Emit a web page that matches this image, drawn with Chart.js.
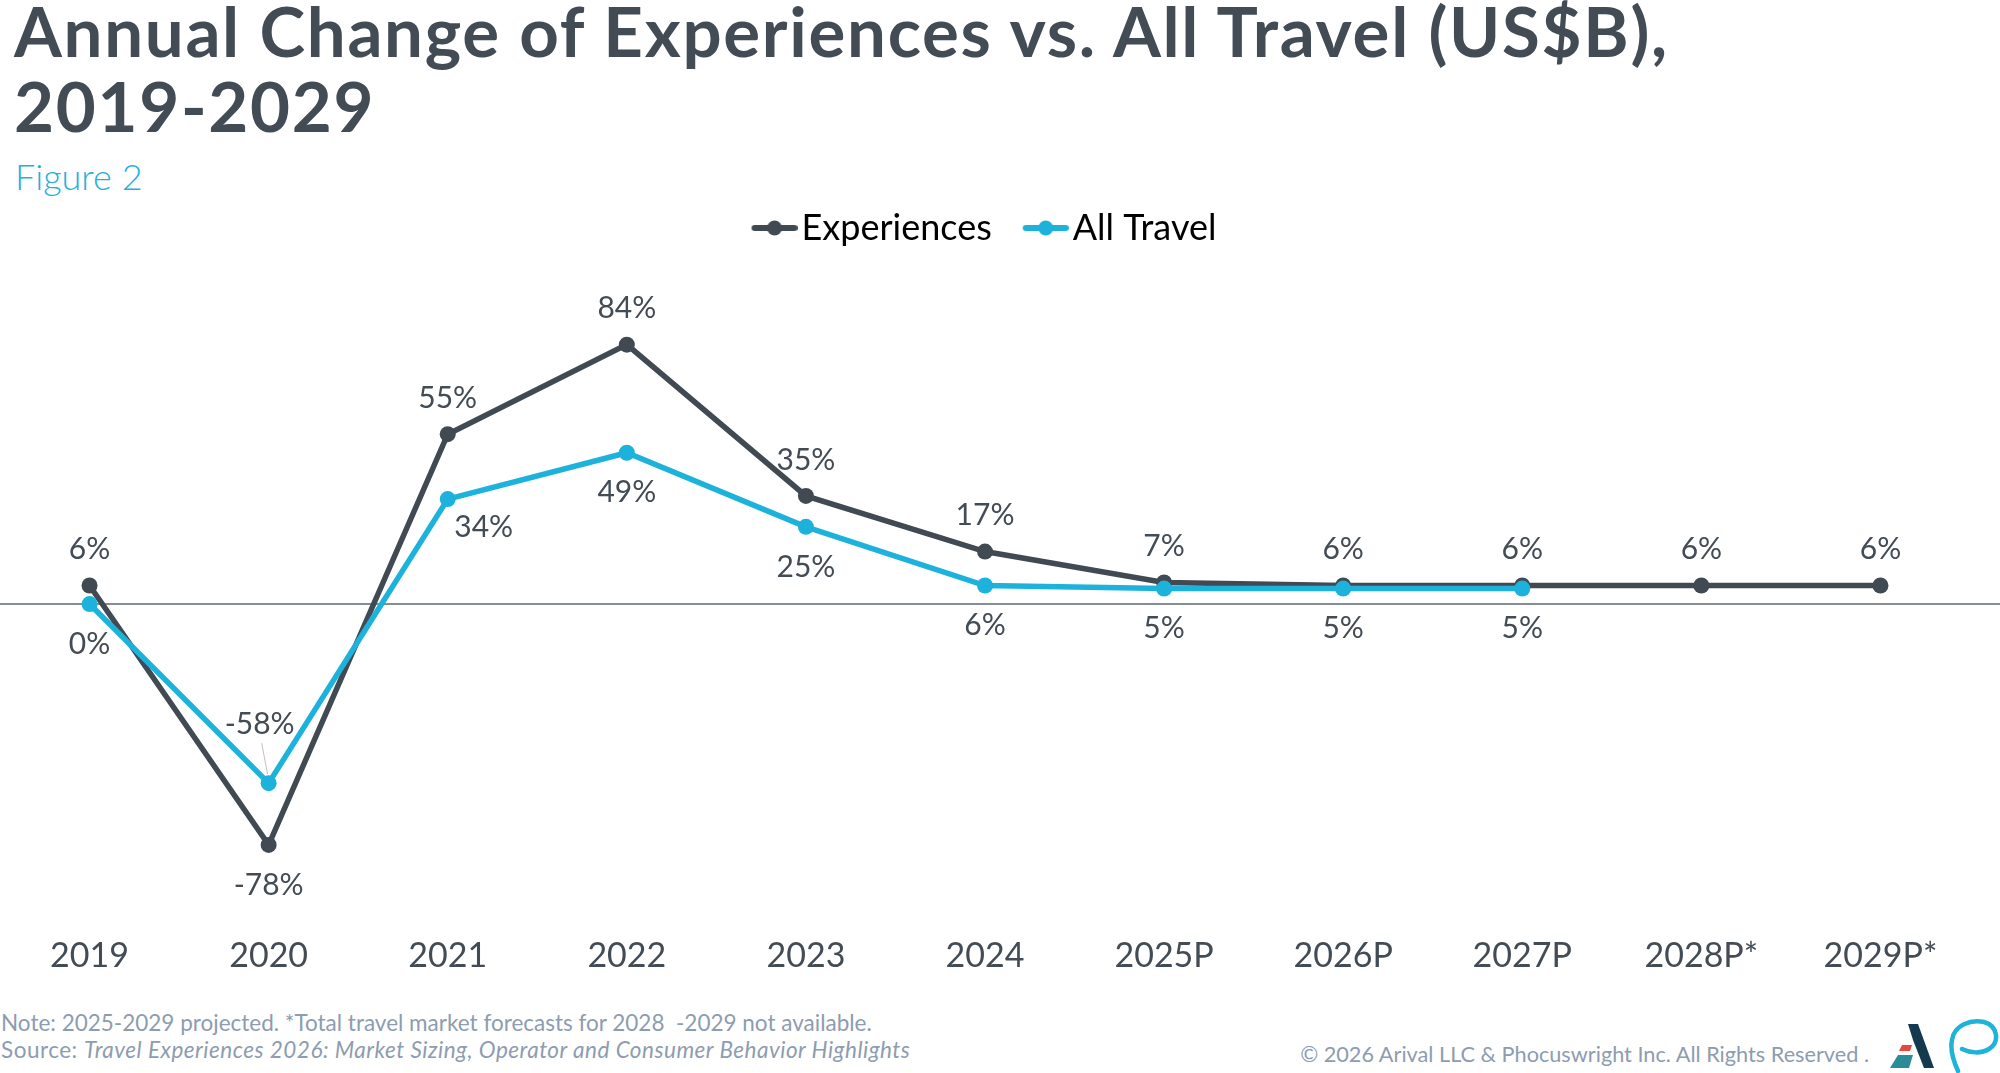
<!DOCTYPE html>
<html>
<head>
<meta charset="utf-8">
<title>Annual Change of Experiences vs. All Travel</title>
<script src="https://cdn.jsdelivr.net/npm/chart.js@4.4.1/dist/chart.umd.min.js"></script>
<style>
  html, body { margin: 0; padding: 0; background: #fff; }
  body { width: 2000px; height: 1073px; position: relative; overflow: hidden; font-family: Lato, "Noto Sans", sans-serif; }
  #title { position: absolute; left: 14px; top: -7px; font-weight: 700; font-size: 69px; line-height: 75px; letter-spacing: 1.7px; color: #434c55; white-space: nowrap; }
  #fig { position: absolute; left: 15px; top: 154px; font-size: 36px; font-weight: 300; color: #1fb1dc; }
  #wrap { position: absolute; left: 0; top: 0; width: 2000px; height: 1000px; }
  .foot { position: absolute; font-size: 22.5px; color: #8d9cb0; white-space: nowrap; }
  #note { left: 1px; top: 1009px; }
  #source { left: 1px; top: 1036px; letter-spacing: 0.5px; }
  #copy { right: 131px; top: 1041px; font-size: 21.7px; }
  #logos { position: absolute; left: 1885px; top: 1016px; }
</style>
</head>
<body>
<div id="title">Annual Change of Experiences vs. All Travel (US$B),<br>2019-2029</div>
<div id="fig">Figure 2</div>
<div id="wrap"><canvas id="chart" width="2000" height="1000"></canvas></div>
<div class="foot" id="note">Note: 2025-2029 projected. *Total travel market forecasts for 2028&nbsp; -2029 not available.</div>
<div class="foot" id="source">Source: <i>Travel Experiences 2026: Market Sizing, Operator and Consumer Behavior Highlights</i></div>
<div class="foot" id="copy">© 2026 Arival LLC &amp; Phocuswright Inc. All Rights Reserved .</div>
<svg id="logos" width="115" height="57" viewBox="0 0 115 57">
  <polygon points="23,8 33,8 49,52 39,52 28,24" fill="#143a50"/>
  <polygon points="17,29 27,29 25,35 14,35" fill="#e8473d"/>
  <polygon points="13,39 28,39 24,52 5,52" fill="#2a8c97"/>
  <path d="M73,55 C68,44 65,33 67,24 C69,9 86,3 99,6 C113,10 115,26 104,33 C96,38 85,37 77,33" fill="none" stroke="#1fb3d9" stroke-width="4.5" stroke-linecap="round"/>
</svg>

<script>
// categories and values
const years = ['2019', '2020', '2021', '2022', '2023', '2024', '2025P', '2026P', '2027P', '2028P*', '2029P*'];
const experiences = [6, -78, 55, 84, 35, 17, 7, 6, 6, 6, 6];
const allTravel = [0, -58, 34, 49, 25, 6, 5, 5, 5, null, null];

// where each value label sits relative to its point
const expLabelSide = ['above', 'below', 'above', 'above', 'above', 'above', 'above', 'above', 'above', 'above', 'above'];
const travelLabelSide = ['below', 'leader', 'right', 'below', 'below', 'below', 'below', 'below', 'below', null, null];

const DARK = '#414a52';
const CYAN = '#1db2dc';
const FONT = 'Lato, "Noto Sans", sans-serif';

const labelOffsets = {
    above: [0, -36],
    below: [0, 40],
    right: [36, 28],
    leader: [-9, -59]
};

// legend symbol: short line with a dot, shifted right so it hugs the text
function legendIcon(color) {
    const boxW = 30, shapeW = 46, left = -2;
    const half = Math.max(boxW / 2 - left, left + shapeW - boxW / 2);
    const c = document.createElement('canvas');
    c.width = half * 2;
    c.height = 18;
    const g = c.getContext('2d');
    const x0 = half - boxW / 2 + left;
    g.strokeStyle = color;
    g.lineWidth = 6;
    g.lineCap = 'round';
    g.beginPath();
    g.moveTo(x0 + 3, 9);
    g.lineTo(x0 + shapeW - 3, 9);
    g.stroke();
    g.fillStyle = color;
    g.beginPath();
    g.arc(x0 + shapeW / 2, 9, 7.5, 0, Math.PI * 2);
    g.fill();
    return c;
}

const zeroLine = {
    id: 'zeroLine',
    beforeDatasetsDraw(chart) {
        const y = chart.scales.y.getPixelForValue(0);
        const ctx = chart.ctx;
        ctx.save();
        ctx.strokeStyle = '#5d6872';
        ctx.lineWidth = 1.5;
        ctx.beginPath();
        ctx.moveTo(0, y);
        ctx.lineTo(chart.width, y);
        ctx.stroke();
        ctx.restore();
    }
};

const valueLabels = {
    id: 'valueLabels',
    afterDatasetsDraw(chart) {
        const ctx = chart.ctx;
        const sides = [expLabelSide, travelLabelSide];
        ctx.save();
        ctx.font = '30px ' + FONT;
        ctx.fillStyle = '#434c55';
        ctx.textAlign = 'center';
        ctx.textBaseline = 'middle';
        chart.data.datasets.forEach((ds, i) => {
            const meta = chart.getDatasetMeta(i);
            meta.data.forEach((pt, j) => {
                const v = ds.data[j];
                if (v === null || v === undefined) return;
                const side = sides[i][j];
                const [dx, dy] = labelOffsets[side];
                if (side === 'leader') {
                    ctx.save();
                    ctx.strokeStyle = '#b9c1c8';
                    ctx.lineWidth = 1;
                    ctx.beginPath();
                    ctx.moveTo(pt.x - 7, pt.y - 40);
                    ctx.lineTo(pt.x - 1, pt.y - 9);
                    ctx.stroke();
                    ctx.restore();
                }
                ctx.fillText(v + '%', pt.x + dx, pt.y + dy);
            });
        });
        ctx.restore();
    }
};

new Chart(document.getElementById('chart'), {
    type: 'line',
    data: {
        labels: years,
        datasets: [
            {
                label: 'Experiences',
                data: experiences,
                borderColor: DARK,
                backgroundColor: DARK,
                borderWidth: 5.5,
                pointRadius: 8,
                pointBorderWidth: 0,
                pointBackgroundColor: DARK,
                tension: 0,
                order: 1
            },
            {
                label: 'All Travel',
                data: allTravel,
                borderColor: CYAN,
                backgroundColor: CYAN,
                borderWidth: 5.5,
                pointRadius: 8,
                pointBorderWidth: 0,
                pointBackgroundColor: CYAN,
                tension: 0,
                order: 0
            }
        ]
    },
    options: {
        responsive: false,
        animation: false,
        layout: { autoPadding: false, padding: { top: 177, right: 30, bottom: 14, left: 0 } },
        plugins: {
            tooltip: { enabled: false },
            legend: {
                position: 'top',
                labels: {
                    usePointStyle: true,
                    pointStyleWidth: 30,
                    padding: 33,
                    color: '#434c55',
                    font: { size: 36, family: FONT },
                    generateLabels: chart => chart.data.datasets.map((ds, i) => ({
                        text: ds.label,
                        pointStyle: legendIcon(ds.borderColor),
                        fillStyle: ds.borderColor,
                        strokeStyle: ds.borderColor,
                        lineWidth: 0,
                        hidden: false,
                        datasetIndex: i
                    }))
                }
            }
        },
        scales: {
            x: {
                offset: true,
                grid: { display: false },
                border: { display: false },
                ticks: { color: '#434c55', font: { size: 34, family: FONT }, padding: 10 }
            },
            y: {
                display: false,
                min: -101.4,
                max: 112.7
            }
        }
    },
    plugins: [zeroLine, valueLabels]
});
</script>
</body>
</html>
